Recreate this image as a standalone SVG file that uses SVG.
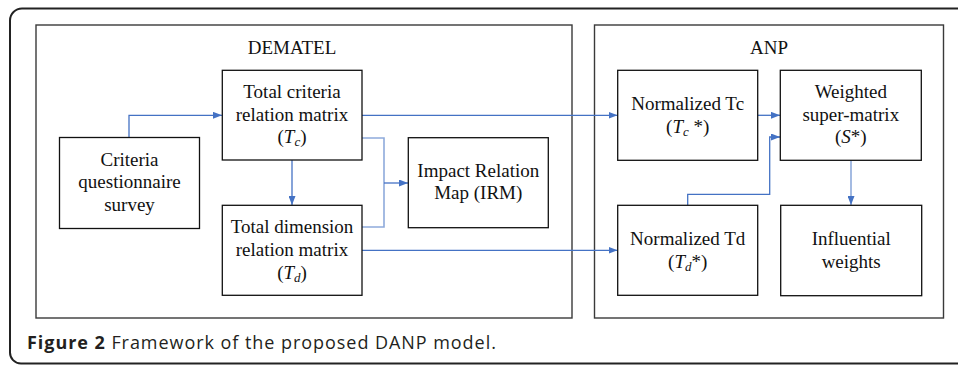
<svg xmlns="http://www.w3.org/2000/svg" width="958" height="365" viewBox="0 0 958 365">
<defs>
<style>
.frame{fill:none;stroke:#3a3a3a;stroke-width:1.4}
.box{fill:#fff;stroke:#111;stroke-width:1.3}
.t{font-family:"Liberation Serif","Times New Roman",serif;font-size:19px;fill:#111;text-anchor:middle}
.it{font-style:italic}
.sub{font-style:italic;font-size:13px}
.c{fill:none;stroke:#4472c4;stroke-width:1.3}
.cl{fill:none;stroke:#8eaadb;stroke-width:1.6}
.cap{font-family:"Open Sans","DejaVu Sans",sans-serif;font-size:18px;letter-spacing:0.95px;fill:#231f20}
</style>
<marker id="ah" viewBox="0 0 9 7" refX="9" refY="3.5" markerWidth="9" markerHeight="7" markerUnits="userSpaceOnUse" orient="auto">
<path d="M0,0 L9,3.5 L0,7 z" fill="#4472c4"/>
</marker>
</defs>
<path d="M958,8.5 H22 A12,12 0 0 0 10,20.5 V352 A11,11 0 0 0 21,363.5 H958" fill="none" stroke="#222" stroke-width="2"/>
<rect class="frame" x="36" y="25" width="536" height="293"/>
<rect class="frame" x="594.5" y="25" width="349" height="293"/>
<text class="t" x="292" y="53.5">DEMATEL</text>
<text class="t" x="769" y="53.5">ANP</text>

<g id="connectors">
<path class="c" d="M129,137 V115.3 H222" marker-end="url(#ah)"/>
<path class="c" d="M362,115.3 H617.5" marker-end="url(#ah)"/>
<path class="cl" d="M362,138 H384 V227 H362"/>
<path class="c" d="M384,183 H408" marker-end="url(#ah)"/>
<path class="c" d="M292,160 V205" marker-end="url(#ah)"/>
<path class="c" d="M362,250.3 H617.5" marker-end="url(#ah)"/>
<path class="c" d="M757.7,115.3 H780" marker-end="url(#ah)"/>
<path class="c" d="M687.7,205 V194.3 H769.7 V137 H780" marker-end="url(#ah)"/>
<path class="cl" d="M851,160 V205" marker-end="url(#ah)"/>
</g>

<g id="criteria-survey">
<rect class="box" x="59.5" y="137.5" width="140" height="91"/>
<text class="t" x="129.5" y="165.7">Criteria</text>
<text class="t" x="129.5" y="188.3">questionnaire</text>
<text class="t" x="129.5" y="211">survey</text>
</g>
<g id="total-criteria">
<rect class="box" x="222.3" y="70.3" width="139.7" height="89.7"/>
<text class="t" x="292" y="98.3">Total criteria</text>
<text class="t" x="292" y="121">relation matrix</text>
<text class="t" x="292" y="143.3">(<tspan class="it">T</tspan><tspan class="sub" dy="3">c</tspan><tspan dy="-3">)</tspan></text>
</g>
<g id="total-dimension">
<rect class="box" x="222.3" y="205.3" width="139.7" height="90"/>
<text class="t" x="292" y="233.3">Total dimension</text>
<text class="t" x="292" y="256">relation matrix</text>
<text class="t" x="292" y="279.3">(<tspan class="it">T</tspan><tspan class="sub" dy="3">d</tspan><tspan dy="-3">)</tspan></text>
</g>
<g id="irm">
<rect class="box" x="408.3" y="137.7" width="140" height="90"/>
<text class="t" x="478.3" y="176.7">Impact Relation</text>
<text class="t" x="478.3" y="199.3">Map (IRM)</text>
</g>
<g id="normalized-tc">
<rect class="box" x="617.7" y="70.3" width="140" height="90"/>
<text class="t" x="687.7" y="110">Normalized Tc</text>
<text class="t" x="687.7" y="132.7">(<tspan class="it">T</tspan><tspan class="sub" dy="3">c</tspan><tspan dy="-3"> *)</tspan></text>
</g>
<g id="weighted">
<rect class="box" x="780.3" y="70.3" width="141" height="90"/>
<text class="t" x="850.8" y="98.3">Weighted</text>
<text class="t" x="850.8" y="121">super-matrix</text>
<text class="t" x="850.8" y="143.3">(<tspan class="it">S</tspan>*)</text>
</g>
<g id="normalized-td">
<rect class="box" x="617.7" y="205.3" width="140" height="90"/>
<text class="t" x="687.7" y="245">Normalized Td</text>
<text class="t" x="687.7" y="267.7">(<tspan class="it">T</tspan><tspan class="sub" dy="3">d</tspan><tspan dy="-3">*)</tspan></text>
</g>
<g id="influential">
<rect class="box" x="780.7" y="205.3" width="141" height="90.4"/>
<text class="t" x="851.2" y="245">Influential</text>
<text class="t" x="851.2" y="267.7">weights</text>
</g>

<text class="cap" x="27" y="349"><tspan font-weight="bold">Figure 2</tspan> Framework of the proposed DANP model.</text>
</svg>
